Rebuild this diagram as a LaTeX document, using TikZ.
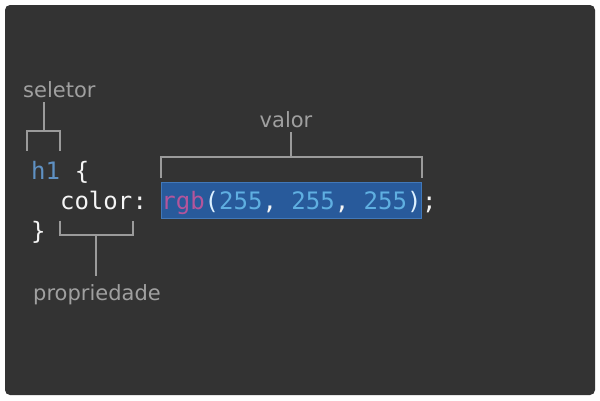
\documentclass[tikz,border=0pt]{standalone}
\usepackage{fontspec}
\usepackage{tikz}
\usetikzlibrary{positioning}
\newfontfamily\codefont{DejaVu Sans Mono}
\newfontfamily\lblfont{DejaVu Sans}
\definecolor{bgcol}{RGB}{51,51,51}
\definecolor{lblcol}{RGB}{160,160,160}
\definecolor{brkcol}{RGB}{155,155,155}
\definecolor{txtcol}{RGB}{245,245,245}
\definecolor{selcol}{RGB}{95,145,195}
\definecolor{fncol}{RGB}{180,85,155}
\definecolor{numcol}{RGB}{95,175,225}
\definecolor{parcol}{RGB}{220,240,255}
\definecolor{hlfill}{RGB}{40,90,155}
\definecolor{hldraw}{RGB}{65,120,185}
\begin{document}
\begin{tikzpicture}[x=1pt, y=-1pt,
  code/.style={inner sep=0pt, text=txtcol, font=\codefont\fontsize{24}{28}\selectfont},
  lbl/.style={inner sep=4pt, text=lblcol, font=\lblfont\fontsize{21}{25}\selectfont},
  brk/.style={draw=brkcol, line width=2pt}]
  \useasboundingbox (0,0) rectangle (600,400);
  \fill[white] (0,0) rectangle (600,400);
  \fill[bgcol, rounded corners=5pt] (5,5) rectangle (595,395);

  % code
  \node[code, anchor=base west] (sel) at (31,179) {\color{selcol}h1};
  \node[code, base right=14.45pt of sel] (open) {\{};
  \node[code, anchor=base west] (prop) at (59.9,209) {color};
  \node[code, base right=0pt of prop] (colon) {:};
  \node[code, base right=13.5pt of colon, fill=hlfill, draw=hldraw, line width=1pt,
        text height=27pt, text depth=9pt] (val)
    {{\color{fncol}rgb}{\color{parcol}(}{\color{numcol}255}, {\color{numcol}255}, {\color{numcol}255}{\color{parcol})}};
  \node[code, base right=0pt of val] (semi) {;};
  \node[code, anchor=base west] (close) at (31,239) {\}};

  % labels
  \node[lbl, anchor=base west] (seletor) at (19,97) {seletor};
  \node[lbl, anchor=base] (valor) at (286,127) {valor};
  \node[lbl, anchor=base west] (propriedade) at (29,300) {propriedade};

  % seletor
  \draw[brk] ([xshift=-4pt,yshift=10pt]sel.north west) -- ++(0,-20)
    -| coordinate[pos=0.25] (selmid) ([yshift=10pt]sel.north east);
  \draw[brk] (selmid) -- (selmid |- seletor.south);

  % valor
  \draw[brk] ([yshift=4pt]val.north west) -- ++(0,-21)
    -| coordinate[pos=0.25] (valmid) ([yshift=4pt]val.north east);
  \draw[brk] (valmid) -- (valmid |- valor.south);

  % propriedade
  \draw[brk] ([yshift=-11pt]prop.south west) -- ++(0,14)
    -| coordinate[pos=0.25] (propmid) ([yshift=-11pt]prop.south east);
  \draw[brk, shorten >=4pt] (propmid) -- (propmid |- propriedade.north);
\end{tikzpicture}
\end{document}
